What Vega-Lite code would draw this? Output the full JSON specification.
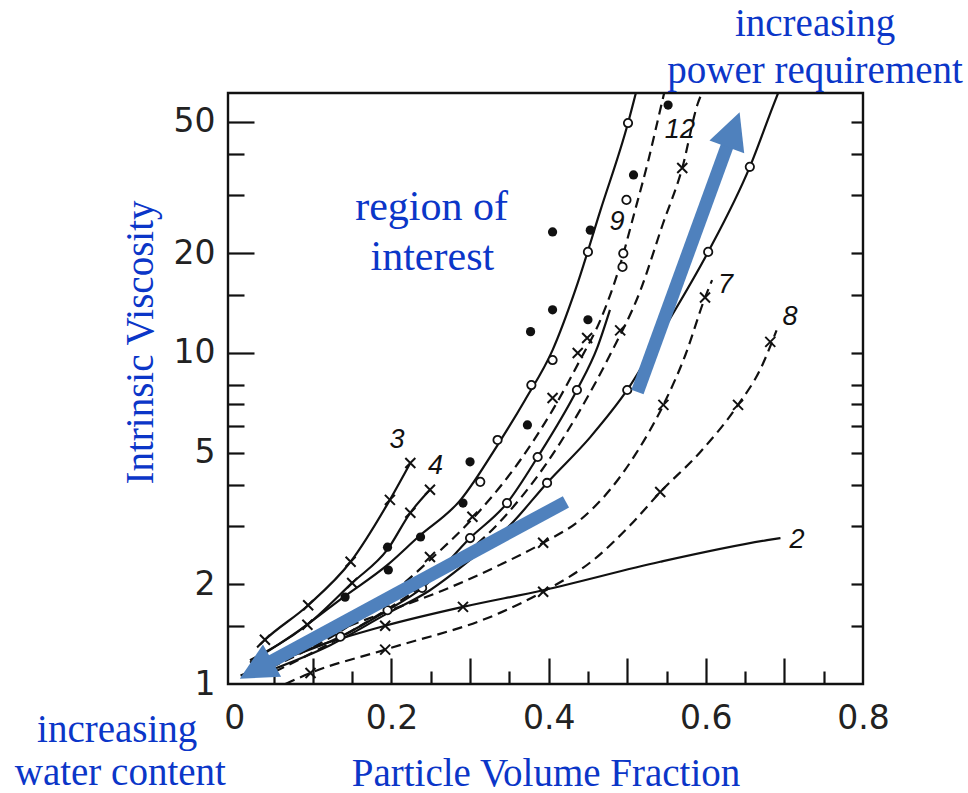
{
  "$schema": "https://vega.github.io/schema/vega-lite/v6.json",
  "width": 635,
  "height": 591,
  "autosize": {"type": "none"},
  "padding": {"left": 228, "top": 93, "right": 105, "bottom": 109},
  "background": "white",
  "config": {
    "view": {"stroke": "#111", "strokeWidth": 2.4},
    "axis": {"grid": false, "domain": false, "labelFont": "DejaVu Sans", "labelFontSize": 33, "labelColor": "#222", "tickColor": "#111", "tickWidth": 2.2, "titleFont": "Liberation Serif", "titleFontWeight": "normal", "titleColor": "#0b36c8", "titleFontSize": 39}
  },
  "datasets": {
    "solid": [
      {"curve": "2", "x": 0.008, "y": 1.06}, {"curve": "2", "x": 0.084, "y": 1.25}, {"curve": "2", "x": 0.192, "y": 1.50}, {"curve": "2", "x": 0.291, "y": 1.71}, {"curve": "2", "x": 0.393, "y": 1.92}, {"curve": "2", "x": 0.542, "y": 2.34}, {"curve": "2", "x": 0.678, "y": 2.72}, {"curve": "2", "x": 0.695, "y": 2.76},
      {"curve": "3", "x": 0.029, "y": 1.29}, {"curve": "3", "x": 0.039, "y": 1.36}, {"curve": "3", "x": 0.094, "y": 1.73}, {"curve": "3", "x": 0.148, "y": 2.34}, {"curve": "3", "x": 0.198, "y": 3.60}, {"curve": "3", "x": 0.224, "y": 4.65},
      {"curve": "4", "x": 0.020, "y": 1.18}, {"curve": "4", "x": 0.093, "y": 1.51}, {"curve": "4", "x": 0.150, "y": 2.02}, {"curve": "4", "x": 0.195, "y": 2.55}, {"curve": "4", "x": 0.224, "y": 3.29}, {"curve": "4", "x": 0.249, "y": 3.86},
      {"curve": "s1", "x": 0.020, "y": 1.16}, {"curve": "s1", "x": 0.084, "y": 1.46}, {"curve": "s1", "x": 0.139, "y": 1.83}, {"curve": "s1", "x": 0.195, "y": 2.29}, {"curve": "s1", "x": 0.234, "y": 2.78}, {"curve": "s1", "x": 0.288, "y": 3.60}, {"curve": "s1", "x": 0.335, "y": 5.27}, {"curve": "s1", "x": 0.370, "y": 7.21}, {"curve": "s1", "x": 0.405, "y": 10.2}, {"curve": "s1", "x": 0.434, "y": 15.5}, {"curve": "s1", "x": 0.466, "y": 27.0}, {"curve": "s1", "x": 0.501, "y": 49.5}, {"curve": "s1", "x": 0.511, "y": 61},
      {"curve": "b", "x": 0.033, "y": 1.14}, {"curve": "b", "x": 0.135, "y": 1.39}, {"curve": "b", "x": 0.195, "y": 1.67}, {"curve": "b", "x": 0.239, "y": 1.95}, {"curve": "b", "x": 0.300, "y": 2.76}, {"curve": "b", "x": 0.347, "y": 3.52}, {"curve": "b", "x": 0.386, "y": 4.85}, {"curve": "b", "x": 0.436, "y": 7.73}, {"curve": "b", "x": 0.462, "y": 10.4}, {"curve": "b", "x": 0.478, "y": 13.5},
      {"curve": "6", "x": 0.046, "y": 1.10}, {"curve": "6", "x": 0.122, "y": 1.31}, {"curve": "6", "x": 0.192, "y": 1.62}, {"curve": "6", "x": 0.249, "y": 1.92}, {"curve": "6", "x": 0.300, "y": 2.37}, {"curve": "6", "x": 0.351, "y": 3.02}, {"curve": "6", "x": 0.398, "y": 4.05}, {"curve": "6", "x": 0.453, "y": 5.57}, {"curve": "6", "x": 0.500, "y": 7.73}, {"curve": "6", "x": 0.551, "y": 12.3}, {"curve": "6", "x": 0.603, "y": 20.2}, {"curve": "6", "x": 0.656, "y": 36.5}, {"curve": "6", "x": 0.686, "y": 56.1}, {"curve": "6", "x": 0.692, "y": 61}
    ],
    "dashed": [
      {"curve": "9", "x": 0.046, "y": 1.12}, {"curve": "9", "x": 0.148, "y": 1.51}, {"curve": "9", "x": 0.249, "y": 2.37}, {"curve": "9", "x": 0.313, "y": 3.35}, {"curve": "9", "x": 0.364, "y": 4.75}, {"curve": "9", "x": 0.405, "y": 6.72}, {"curve": "9", "x": 0.440, "y": 9.52}, {"curve": "9", "x": 0.466, "y": 12.6}, {"curve": "9", "x": 0.489, "y": 17.8}, {"curve": "9", "x": 0.510, "y": 27.0}, {"curve": "9", "x": 0.527, "y": 38.3}, {"curve": "9", "x": 0.539, "y": 50.6}, {"curve": "9", "x": 0.547, "y": 61},
      {"curve": "12", "x": 0.052, "y": 1.09}, {"curve": "12", "x": 0.148, "y": 1.44}, {"curve": "12", "x": 0.249, "y": 2.06}, {"curve": "12", "x": 0.338, "y": 3.09}, {"curve": "12", "x": 0.396, "y": 4.59}, {"curve": "12", "x": 0.440, "y": 6.72}, {"curve": "12", "x": 0.478, "y": 9.86}, {"curve": "12", "x": 0.517, "y": 15.5}, {"curve": "12", "x": 0.545, "y": 24.4}, {"curve": "12", "x": 0.570, "y": 36.2}, {"curve": "12", "x": 0.590, "y": 56.9}, {"curve": "12", "x": 0.595, "y": 61},
      {"curve": "7", "x": 0.039, "y": 1.09}, {"curve": "7", "x": 0.106, "y": 1.36}, {"curve": "7", "x": 0.190, "y": 1.64}, {"curve": "7", "x": 0.266, "y": 1.92}, {"curve": "7", "x": 0.338, "y": 2.29}, {"curve": "7", "x": 0.393, "y": 2.67}, {"curve": "7", "x": 0.440, "y": 3.13}, {"curve": "7", "x": 0.478, "y": 3.86}, {"curve": "7", "x": 0.510, "y": 4.92}, {"curve": "7", "x": 0.546, "y": 6.97}, {"curve": "7", "x": 0.574, "y": 9.86}, {"curve": "7", "x": 0.599, "y": 14.7}, {"curve": "7", "x": 0.608, "y": 16.6},
      {"curve": "8", "x": 0.065, "y": 1.0}, {"curve": "8", "x": 0.097, "y": 1.08}, {"curve": "8", "x": 0.192, "y": 1.27}, {"curve": "8", "x": 0.338, "y": 1.64}, {"curve": "8", "x": 0.393, "y": 1.90}, {"curve": "8", "x": 0.457, "y": 2.37}, {"curve": "8", "x": 0.504, "y": 3.02}, {"curve": "8", "x": 0.542, "y": 3.80}, {"curve": "8", "x": 0.593, "y": 5.02}, {"curve": "8", "x": 0.641, "y": 6.97}, {"curve": "8", "x": 0.669, "y": 8.89}, {"curve": "8", "x": 0.690, "y": 11.7}
    ],
    "openPts": [
      {"x": 0.501, "y": 49.5}, {"x": 0.450, "y": 20.2}, {"x": 0.405, "y": 9.52}, {"x": 0.335, "y": 5.46}, {"x": 0.313, "y": 4.08}, {"x": 0.386, "y": 4.85}, {"x": 0.347, "y": 3.52}, {"x": 0.300, "y": 2.76}, {"x": 0.239, "y": 1.95}, {"x": 0.195, "y": 1.67}, {"x": 0.135, "y": 1.39}, {"x": 0.398, "y": 4.05}, {"x": 0.500, "y": 7.73}, {"x": 0.436, "y": 7.73}, {"x": 0.603, "y": 20.2}, {"x": 0.656, "y": 36.5}, {"x": 0.494, "y": 18.2}, {"x": 0.495, "y": 20.0}, {"x": 0.499, "y": 29.0}, {"x": 0.378, "y": 8.0}
    ],
    "filledPts": [
      {"x": 0.141, "y": 1.83}, {"x": 0.196, "y": 2.21}, {"x": 0.195, "y": 2.59}, {"x": 0.237, "y": 2.78}, {"x": 0.291, "y": 3.52}, {"x": 0.300, "y": 4.69}, {"x": 0.373, "y": 6.06}, {"x": 0.377, "y": 11.6}, {"x": 0.405, "y": 13.5}, {"x": 0.405, "y": 23.2}, {"x": 0.453, "y": 23.5}, {"x": 0.450, "y": 12.6}, {"x": 0.508, "y": 34.5}, {"x": 0.552, "y": 56.1}
    ],
    "crossPts": [
      {"x": 0.039, "y": 1.36}, {"x": 0.094, "y": 1.73}, {"x": 0.148, "y": 2.34}, {"x": 0.198, "y": 3.60}, {"x": 0.224, "y": 4.65},
      {"x": 0.093, "y": 1.51}, {"x": 0.150, "y": 2.02}, {"x": 0.224, "y": 3.29}, {"x": 0.249, "y": 3.86},
      {"x": 0.192, "y": 1.50}, {"x": 0.291, "y": 1.71},
      {"x": 0.097, "y": 1.08}, {"x": 0.192, "y": 1.27}, {"x": 0.393, "y": 1.90}, {"x": 0.542, "y": 3.80}, {"x": 0.641, "y": 6.97}, {"x": 0.682, "y": 10.8},
      {"x": 0.393, "y": 2.67}, {"x": 0.546, "y": 6.97}, {"x": 0.599, "y": 14.7},
      {"x": 0.491, "y": 11.7}, {"x": 0.570, "y": 36.2},
      {"x": 0.405, "y": 7.31}, {"x": 0.303, "y": 3.20}, {"x": 0.249, "y": 2.42}, {"x": 0.449, "y": 11.1}, {"x": 0.437, "y": 10.0}
    ],
    "curveLabels": [
      {"label": "3", "x": 0.207, "y": 5.46}, {"label": "4", "x": 0.256, "y": 4.56}, {"label": "9", "x": 0.487, "y": 24.9}, {"label": "12", "x": 0.567, "y": 47.2}, {"label": "7", "x": 0.625, "y": 16.0}, {"label": "8", "x": 0.707, "y": 12.8}, {"label": "2", "x": 0.716, "y": 2.72}
    ],
    "notes": [
      {"text": "increasing", "x": 0.739, "y": 90.7}, {"text": "power requirement", "x": 0.739, "y": 65.4}, {"text": "increasing", "x": -0.149, "y": 0.668}, {"text": "water content", "x": -0.145, "y": 0.495}
    ],
    "region": [
      {"text": "region of", "x": 0.251, "y": 25.2}, {"text": "interest", "x": 0.252, "y": 17.8}
    ],
    "shafts": [
      {"arrow": "water", "x": 0.422, "y": 3.55}, {"arrow": "water", "x": 0.047, "y": 1.17},
      {"arrow": "power", "x": 0.513, "y": 7.62}, {"arrow": "power", "x": 0.628, "y": 42.8}
    ],
    "headWater": [{"x": 0.007, "y": 1.037}],
    "headPower": [{"x": 0.643, "y": 53.4}]
  },
  "resolve": {"axis": {"x": "independent", "y": "independent"}},
  "layer": [
    {
      "data": {"name": "solid"},
      "mark": {"type": "line", "interpolate": "monotone", "color": "#111", "strokeWidth": 2.2, "clip": true},
      "encoding": {
        "x": {"field": "x", "type": "quantitative", "scale": {"domain": [-0.008, 0.8], "nice": false, "zero": false},
          "axis": {"orient": "bottom", "values": [0, 0.2, 0.4, 0.6, 0.8], "format": "~g", "ticks": false, "labelPadding": 18, "labelFlush": false, "labelOverlap": false, "title": "Particle Volume Fraction", "titlePadding": 19}},
        "y": {"field": "y", "type": "quantitative", "scale": {"type": "log", "domain": [1, 61], "nice": false},
          "axis": {"orient": "left", "values": [1, 2, 5, 10, 20, 50], "format": "d", "ticks": false, "labelPadding": 13, "labelOverlap": false, "title": "Intrinsic Viscosity", "titleAngle": 270, "titleX": -76, "titleY": 249, "titleAlign": "center", "titleBaseline": "alphabetic"}},
        "detail": {"field": "curve"}
      }
    },
    {
      "data": {"name": "dashed"},
      "mark": {"type": "line", "interpolate": "monotone", "color": "#111", "strokeWidth": 2.2, "strokeDash": [10, 6], "clip": true},
      "encoding": {
        "x": {"field": "x", "type": "quantitative", "scale": {"domain": [-0.008, 0.8], "nice": false, "zero": false}, "axis": null},
        "y": {"field": "y", "type": "quantitative", "scale": {"type": "log", "domain": [1, 61], "nice": false}, "axis": null},
        "detail": {"field": "curve"}
      }
    },
    {
      "data": {"name": "openPts"},
      "mark": {"type": "point", "shape": "circle", "filled": false, "fill": "white", "fillOpacity": 1, "stroke": "#111", "strokeWidth": 1.8, "size": 70, "opacity": 1},
      "encoding": {
        "x": {"field": "x", "type": "quantitative", "scale": {"domain": [-0.008, 0.8], "nice": false, "zero": false},
          "axis": {"orient": "bottom", "values": [0.1, 0.2, 0.3, 0.4, 0.5, 0.6, 0.7], "tickSize": -26, "labels": false, "title": null}},
        "y": {"field": "y", "type": "quantitative", "scale": {"type": "log", "domain": [1, 61], "nice": false},
          "axis": {"orient": "left", "values": [10, 20, 50], "tickSize": -26, "labels": false, "title": null}}
      }
    },
    {
      "data": {"name": "filledPts"},
      "mark": {"type": "point", "shape": "circle", "filled": true, "color": "#111", "size": 85, "opacity": 1},
      "encoding": {
        "x": {"field": "x", "type": "quantitative", "scale": {"domain": [-0.008, 0.8], "nice": false, "zero": false},
          "axis": {"orient": "bottom", "values": [0.05, 0.15, 0.25, 0.35, 0.45, 0.55, 0.65, 0.75], "tickSize": -13, "labels": false, "title": null}},
        "y": {"field": "y", "type": "quantitative", "scale": {"type": "log", "domain": [1, 61], "nice": false},
          "axis": {"orient": "left", "values": [1.5, 2, 3, 4, 5, 6, 7, 8, 15, 30, 40], "tickSize": -16, "labels": false, "title": null}}
      }
    },
    {
      "data": {"name": "crossPts"},
      "mark": {"type": "point", "shape": "M-1,-1L1,1M-1,1L1,-1", "filled": false, "stroke": "#111", "strokeWidth": 2, "size": 100, "opacity": 1},
      "encoding": {
        "x": {"field": "x", "type": "quantitative", "scale": {"domain": [-0.008, 0.8], "nice": false, "zero": false}, "axis": null},
        "y": {"field": "y", "type": "quantitative", "scale": {"type": "log", "domain": [1, 61], "nice": false},
          "axis": {"orient": "right", "values": [1.5, 2, 3, 4, 5, 6, 7, 8, 10, 15, 20, 30, 40, 50], "tickSize": -12, "labels": false, "title": null}}
      }
    },
    {
      "data": {"name": "curveLabels"},
      "mark": {"type": "text", "font": "Liberation Sans", "fontStyle": "italic", "fontSize": 27, "color": "#111", "align": "center", "baseline": "middle"},
      "encoding": {
        "x": {"field": "x", "type": "quantitative", "scale": {"domain": [-0.008, 0.8], "nice": false, "zero": false}, "axis": null},
        "y": {"field": "y", "type": "quantitative", "scale": {"type": "log", "domain": [1, 61], "nice": false}, "axis": null},
        "text": {"field": "label"}
      }
    },
    {
      "data": {"name": "shafts"},
      "mark": {"type": "line", "color": "#4f81bd", "strokeWidth": 13, "strokeCap": "butt"},
      "encoding": {
        "x": {"field": "x", "type": "quantitative", "scale": {"domain": [-0.008, 0.8], "nice": false, "zero": false}, "axis": null},
        "y": {"field": "y", "type": "quantitative", "scale": {"type": "log", "domain": [1, 61], "nice": false}, "axis": null},
        "detail": {"field": "arrow"}
      }
    },
    {
      "data": {"name": "headWater"},
      "mark": {"type": "point", "shape": "M0,0L-1,2L1,2Z", "filled": true, "color": "#4f81bd", "opacity": 1, "size": 1369, "angle": 240.6},
      "encoding": {
        "x": {"field": "x", "type": "quantitative", "scale": {"domain": [-0.008, 0.8], "nice": false, "zero": false}, "axis": null},
        "y": {"field": "y", "type": "quantitative", "scale": {"type": "log", "domain": [1, 61], "nice": false}, "axis": null}
      }
    },
    {
      "data": {"name": "headPower"},
      "mark": {"type": "point", "shape": "M0,0L-1,2L1,2Z", "filled": true, "color": "#4f81bd", "opacity": 1, "size": 1369, "angle": 20.2},
      "encoding": {
        "x": {"field": "x", "type": "quantitative", "scale": {"domain": [-0.008, 0.8], "nice": false, "zero": false}, "axis": null},
        "y": {"field": "y", "type": "quantitative", "scale": {"type": "log", "domain": [1, 61], "nice": false}, "axis": null}
      }
    },
    {
      "data": {"name": "notes"},
      "mark": {"type": "text", "font": "Liberation Serif", "fontSize": 39, "color": "#0b36c8", "align": "center", "baseline": "alphabetic"},
      "encoding": {
        "x": {"field": "x", "type": "quantitative", "scale": {"domain": [-0.008, 0.8], "nice": false, "zero": false}, "axis": null},
        "y": {"field": "y", "type": "quantitative", "scale": {"type": "log", "domain": [1, 61], "nice": false}, "axis": null},
        "text": {"field": "text"}
      }
    },
    {
      "data": {"name": "region"},
      "mark": {"type": "text", "font": "Liberation Serif", "fontSize": 42, "color": "#0b36c8", "align": "center", "baseline": "alphabetic"},
      "encoding": {
        "x": {"field": "x", "type": "quantitative", "scale": {"domain": [-0.008, 0.8], "nice": false, "zero": false}, "axis": null},
        "y": {"field": "y", "type": "quantitative", "scale": {"type": "log", "domain": [1, 61], "nice": false}, "axis": null},
        "text": {"field": "text"}
      }
    }
  ]
}
